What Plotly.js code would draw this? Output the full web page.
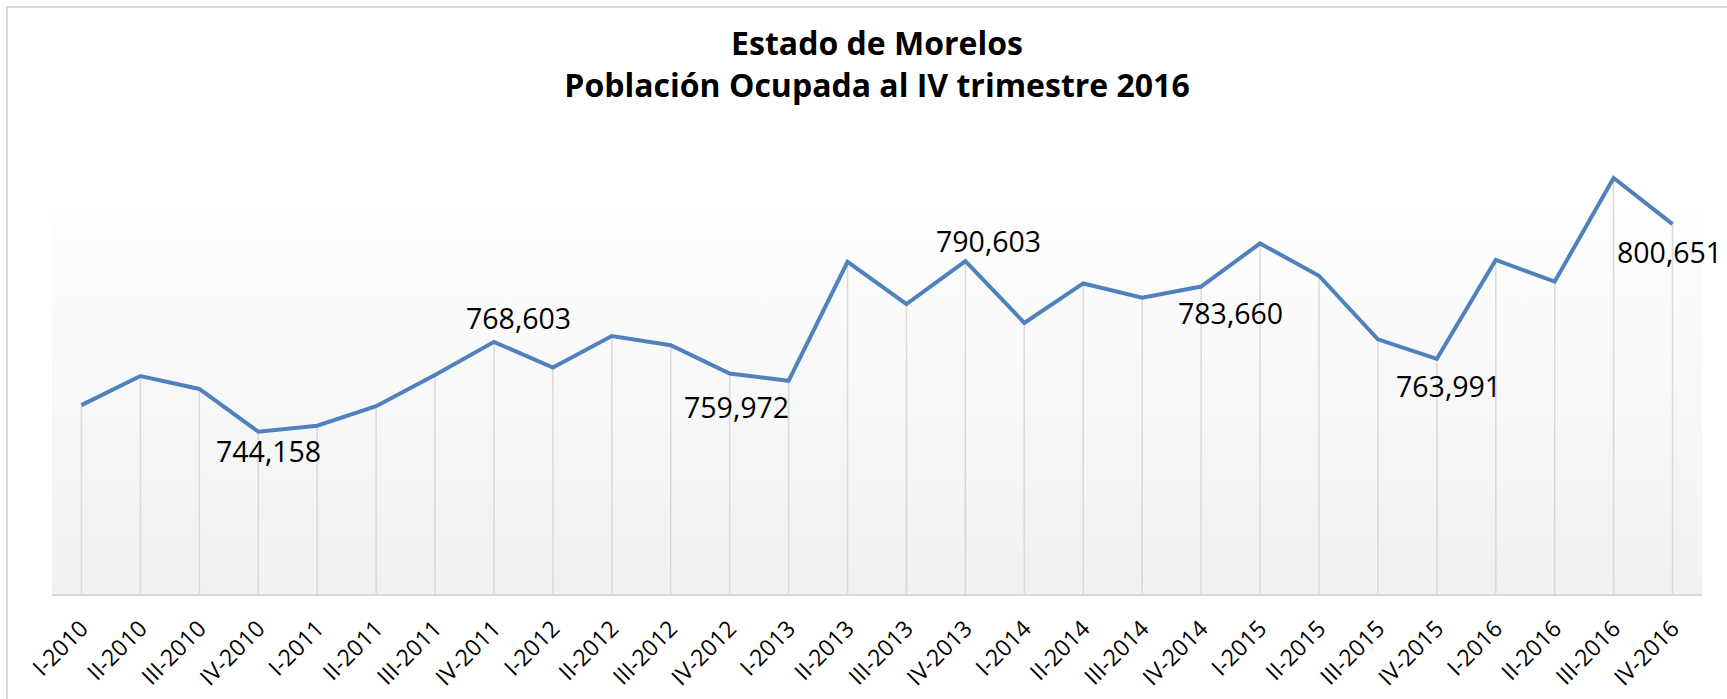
<!DOCTYPE html>
<html>
<head>
<meta charset="utf-8">
<script src="https://cdn.plot.ly/plotly-3.0.1.min.js"></script>
<style>
  html, body { margin: 0; padding: 0; background: #ffffff; }
  #chart { width: 1727px; height: 699px; }
</style>
</head>
<body>
<div id="chart"></div>
<script>
// ---- Data ----
const quarters = [
  "I-2010","II-2010","III-2010","IV-2010",
  "I-2011","II-2011","III-2011","IV-2011",
  "I-2012","II-2012","III-2012","IV-2012",
  "I-2013","II-2013","III-2013","IV-2013",
  "I-2014","II-2014","III-2014","IV-2014",
  "I-2015","II-2015","III-2015","IV-2015",
  "I-2016","II-2016","III-2016","IV-2016"
];
const ocupada = [
  751400, 759300, 755800, 744158,
  745800, 751100, 759600, 768603,
  761600, 770200, 767700, 759972,
  758000, 790400, 778900, 790603,
  773800, 784500, 780600, 783660,
  795400, 786600, 769300, 763991,
  790900, 785000, 813200, 800651
];
// indices of the labelled points (IV quarters)
const labelled = [3, 7, 11, 15, 19, 23, 27];

// ---- Styling (label offsets in px, not data) ----
const labelDx = [10, 25, 7, 23, 29, 12, -3];
const labelDy = [-19, 24, -33, 20, -26, -27, -28];
const yMin = 700000, yMax = 820000;

const dropLines = {
  x: quarters,
  y: ocupada,
  type: "scatter",
  mode: "markers",
  marker: { size: 1, color: "rgba(0,0,0,0)" },
  error_y: {
    type: "data",
    symmetric: false,
    array: ocupada.map(() => 0),
    arrayminus: ocupada.map(v => v - yMin),
    color: "#d9d9d9",
    thickness: 1.5,
    width: 0
  },
  hoverinfo: "skip",
  showlegend: false
};

const line = {
  x: quarters,
  y: ocupada,
  type: "scatter",
  mode: "lines",
  line: { color: "#4f81bd", width: 4 },
  hovertemplate: "%{x}: %{y:,}<extra></extra>",
  showlegend: false
};

const annotations = labelled.map((idx, k) => ({
  x: quarters[idx],
  y: ocupada[idx],
  xref: "x", yref: "y",
  text: ocupada[idx].toLocaleString("en-US"),
  showarrow: false,
  xanchor: "center", yanchor: "middle",
  xshift: labelDx[k],
  yshift: labelDy[k],
  font: { family: "Open Sans", size: 28.5, color: "#000000" }
}));

const gradSvg = '<svg xmlns="http://www.w3.org/2000/svg" width="100" height="100" preserveAspectRatio="none">' +
  '<defs><linearGradient id="g" x1="0" y1="0" x2="0" y2="1">' +
  '<stop offset="0" stop-color="#fefefe"/><stop offset="1" stop-color="#f1f1f1"/>' +
  '</linearGradient></defs><rect width="100" height="100" fill="url(#g)"/></svg>';

const layout = {
  width: 1727,
  height: 699,
  margin: { l: 52, r: 25, t: 153, b: 105, pad: 0 },
  paper_bgcolor: "#ffffff",
  plot_bgcolor: "rgba(0,0,0,0)",
  title: {
    text: "<b>Estado de Morelos<br>Población Ocupada al IV trimestre 2016</b>",
    font: { family: "Open Sans", size: 32, color: "#000000" },
    x: 0.5, xanchor: "center", xref: "paper",
    y: 1 - 55 / 699, yanchor: "middle", yref: "container"
  },
  xaxis: {
    type: "category",
    categoryorder: "array",
    categoryarray: quarters,
    range: [-0.5, quarters.length - 0.5],
    showgrid: false,
    zeroline: false,
    showline: true,
    linecolor: "#d9d9d9",
    linewidth: 2,
    ticks: "",
    tickangle: -45,
    tickfont: { family: "Open Sans", size: 23, color: "#000000" },
    ticklabelstandoff: 10,
    fixedrange: true
  },
  yaxis: {
    range: [yMin, yMax],
    visible: false,
    showgrid: false,
    zeroline: false,
    fixedrange: true
  },
  images: [{
    source: "data:image/svg+xml;charset=utf-8," + encodeURIComponent(gradSvg),
    xref: "paper", yref: "paper",
    x: 0, y: (594 - 210) / 441,
    sizex: 1, sizey: (594 - 210) / 441,
    xanchor: "left", yanchor: "top",
    sizing: "stretch",
    layer: "below"
  }],
  shapes: [{
    type: "rect",
    xref: "paper", yref: "paper",
    x0: (7 - 52) / 1650, x1: (1740 - 52) / 1650,
    y0: (594 - 720) / 441, y1: (594 - 7) / 441,
    line: { color: "#d9d9d9", width: 2 },
    fillcolor: "rgba(0,0,0,0)",
    layer: "above"
  }],
  annotations: annotations
};

Plotly.newPlot("chart", [dropLines, line], layout, { displayModeBar: false, responsive: false });
</script>
</body>
</html>
